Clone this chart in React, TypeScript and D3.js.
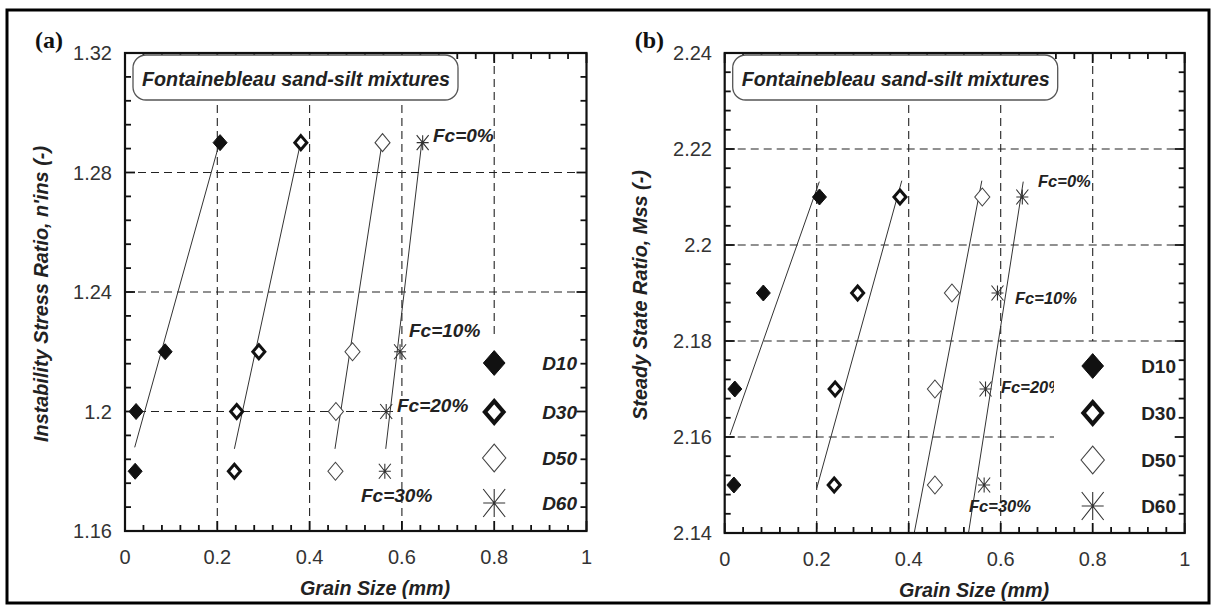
import React from "react";
import * as d3 from "d3";

// ---------- data ----------
const sizeLabels = ["D10", "D30", "D50", "D60"];
const fcLabels = ["Fc=0%", "Fc=10%", "Fc=20%", "Fc=30%"];

// panel (a): instability stress ratio for Fc = 0,10,20,30 %
const nInsValues = [1.29, 1.22, 1.2, 1.18];
const aD10 = [0.206, 0.087, 0.024, 0.022];
const aD30 = [0.381, 0.29, 0.242, 0.237];
const aD50 = [0.558, 0.493, 0.457, 0.456];
const aD60 = [0.645, 0.596, 0.566, 0.563];
// fitted lines (grain size, ratio) endpoints
const aFitD10 = [[0.021, 1.188], [0.203, 1.289]];
const aFitD30 = [[0.237, 1.1875], [0.379, 1.289]];
const aFitD50 = [[0.455, 1.1875], [0.556, 1.289]];
const aFitD60 = [[0.565, 1.1875], [0.643, 1.29]];

// panel (b): steady state ratio
const mssValues = [2.21, 2.19, 2.17, 2.15];
const bD10 = [0.206, 0.084, 0.022, 0.02];
const bD30 = [0.381, 0.289, 0.24, 0.238];
const bD50 = [0.56, 0.494, 0.457, 0.457];
const bD60 = [0.647, 0.593, 0.567, 0.564];
const bFitD10 = [[0.0115, 2.1604], [0.2057, 2.2132]];
const bFitD30 = [[0.2, 2.1493], [0.385, 2.2134]];
const bFitD50 = [[0.412, 2.14], [0.559, 2.2134]];
const bFitD60 = [[0.53, 2.14], [0.649, 2.2132]];

const xTicks = [0, 0.2, 0.4, 0.6, 0.8, 1];
const aYTicks = [1.16, 1.2, 1.24, 1.28, 1.32];
const bYTicks = [2.14, 2.16, 2.18, 2.2, 2.22, 2.24];

const SANS = "'Liberation Sans', Arial, sans-serif";
const SERIF = "'Liberation Serif', 'Times New Roman', serif";

// ---------- markers ----------
function Marker({ kind, x, y, big }: { kind: number; x: number; y: number; big?: boolean }) {
  const s = big ? 1.55 : 1;
  if (kind === 0) {
    const w = 7 * s, h = 8 * s;
    return <path d={`M${x},${y - h}L${x + w},${y}L${x},${y + h}L${x - w},${y}Z`} fill="#111" stroke="#111" strokeWidth={1} />;
  }
  if (kind === 1) {
    const w = 6 * s, h = 7 * s;
    return <path d={`M${x},${y - h}L${x + w},${y}L${x},${y + h}L${x - w},${y}Z`} fill="#fff" stroke="#111" strokeWidth={3 * (big ? 1.4 : 1)} strokeLinejoin="miter" />;
  }
  if (kind === 2) {
    const w = 7.5 * s, h = 9 * s;
    return <path d={`M${x},${y - h}L${x + w},${y}L${x},${y + h}L${x - w},${y}Z`} fill="#fff" stroke="#444" strokeWidth={1.1} />;
  }
  const r = big ? 11 : 6, ry = big ? 14 : 7.5;
  return (
    <path
      d={`M${x},${y - ry}L${x},${y + ry}M${x - r},${y}L${x + r},${y}M${x - r},${y - ry}L${x + r},${y + ry}M${x - r},${y + ry}L${x + r},${y - ry}`}
      stroke="#333" strokeWidth={1.1} fill="none"
    />
  );
}

type PanelProps = {
  label: string;
  x0: number; x1: number; y0: number; y1: number;
  yDomain: [number, number];
  yTicks: number[];
  yMinor: number;
  yValues: number[];
  series: number[][];
  fits: number[][][];
  yTitle: string;
  yTitleX: number;
  legendItalic: boolean;
  legendLabelX: number;
  legendRows: number[];
  legendRect: [number, number, number, number];
  fcPos: { x: number; y: number; size: number }[];
  fcBg?: number[];
  xTitleX: number;
  yLabelRight: number;
  yTitleLen: number;
};

function Panel(p: PanelProps) {
  const x = d3.scaleLinear().domain([0, 1]).range([p.x0, p.x1]);
  const y = d3.scaleLinear().domain(p.yDomain).range([p.y1, p.y0]);
  const line = d3.line<number[]>().x((d) => x(d[0])).y((d) => y(d[1]));
  const xMinor = d3.range(0, 1.0001, 0.04);
  const yMinorTicks = d3.range(p.yDomain[0], p.yDomain[1] + 1e-6, p.yMinor);
  const isMajorX = (v: number) => Math.abs(v * 5 - Math.round(v * 5)) < 1e-6;
  const isMajorY = (v: number) => p.yTicks.some((t) => Math.abs(t - v) < 1e-6);
  const dash = "8,5";
  const gridStroke = "#222";
  const boxX = p.x0 + 8, boxY = p.y0 + 2, boxW = 325, boxH = 45;
  const fmtY = (v: number) => String(+v.toFixed(2));
  return (
    <g>
      {/* grid */}
      {xTicks.filter((v) => v > 0 && v < 1).map((v) => (
        <line key={"gx" + v} x1={x(v)} x2={x(v)} y1={p.y0} y2={v > 0.7 ? p.legendRect[1] - 4 : p.y1}
          stroke={gridStroke} strokeWidth={1.1} strokeDasharray={dash} />
      ))}
      {p.yTicks.filter((v, i) => i > 0 && i < p.yTicks.length - 1).map((v) => (
        <line key={"gy" + v} x1={p.x0} x2={p.x1} y1={y(v)} y2={y(v)}
          stroke={gridStroke} strokeWidth={1.1} strokeDasharray={dash} />
      ))}
      {/* fit lines */}
      {p.fits.map((f, i) => (
        <path key={"fit" + i} d={line(f) || ""} stroke="#333" strokeWidth={1} fill="none" />
      ))}
      {/* markers */}
      {p.series.map((s, k) =>
        s.map((v, i) => <Marker key={`m${k}-${i}`} kind={k} x={x(v)} y={y(p.yValues[i])} />)
      )}
      {/* Fc labels */}
      {p.fcBg && <rect x={p.fcBg[0]} y={p.fcBg[1]} width={p.fcBg[2]} height={p.fcBg[3]} fill="#fff" />}
      {fcLabels.map((t, i) => (
        <text key={"fc" + i} x={p.fcPos[i].x} y={p.fcPos[i].y} fontFamily={SANS} fontWeight="bold" fontStyle="italic"
          fontSize={p.fcPos[i].size} fill="#222">{t}</text>
      ))}
      {/* legend */}
      <rect x={p.legendRect[0]} y={p.legendRect[1]} width={p.legendRect[2]} height={p.legendRect[3]} fill="#fff" />
      {sizeLabels.map((t, i) => (
        <g key={"lg" + i}>
          <Marker kind={i} x={x(0.8)} y={p.legendRows[i]} big />
          <text x={p.legendLabelX} y={p.legendRows[i]} dy="0.36em" textAnchor="end" fontFamily={SANS} fontWeight="bold"
            fontStyle={p.legendItalic ? "italic" : "normal"} fontSize={19} fill="#222">{t}</text>
        </g>
      ))}
      {/* frame */}
      <rect x={p.x0} y={p.y0} width={p.x1 - p.x0} height={p.y1 - p.y0} fill="none" stroke="#111" strokeWidth={2.2} />
      {xMinor.map((v) => {
        const len = isMajorX(v) ? 10 : 6;
        return (
          <g key={"xt" + v}>
            <line x1={x(v)} x2={x(v)} y1={p.y1} y2={p.y1 - len} stroke="#111" strokeWidth={1.8} />
            <line x1={x(v)} x2={x(v)} y1={p.y0} y2={p.y0 + len} stroke="#111" strokeWidth={1.8} />
          </g>
        );
      })}
      {yMinorTicks.map((v) => {
        const len = isMajorY(v) ? 10 : 6;
        return (
          <g key={"yt" + v}>
            <line x1={p.x0} x2={p.x0 + len} y1={y(v)} y2={y(v)} stroke="#111" strokeWidth={1.8} />
            <line x1={p.x1} x2={p.x1 - len} y1={y(v)} y2={y(v)} stroke="#111" strokeWidth={1.8} />
          </g>
        );
      })}
      {/* title box */}
      <rect x={boxX} y={boxY} width={boxW} height={boxH} rx={13} ry={13} fill="#fff" stroke="#555" strokeWidth={1.3} />
      <text x={boxX + 9} y={boxY + 31} fontFamily={SANS} fontWeight="bold" fontStyle="italic" fontSize={20.5}
        textLength={308} lengthAdjust="spacingAndGlyphs" fill="#222">Fontainebleau sand-silt mixtures</text>
      {/* tick labels */}
      {xTicks.map((v) => (
        <text key={"xl" + v} x={x(v)} y={p.y1 + 33} textAnchor="middle" fontFamily={SANS} fontSize={20} fill="#333">
          {String(v)}
        </text>
      ))}
      {p.yTicks.map((v) => (
        <text key={"yl" + v} x={p.yLabelRight} y={y(v)} dy="0.36em" textAnchor="end" fontFamily={SANS} fontSize={20} fill="#333">
          {fmtY(v)}
        </text>
      ))}
      {/* axis titles */}
      <text x={p.xTitleX} y={p.y1 + 64} textAnchor="middle" fontFamily={SANS} fontWeight="bold" fontStyle="italic"
        fontSize={20} textLength={150} lengthAdjust="spacingAndGlyphs" fill="#222">Grain Size (mm)</text>
      <text transform={`translate(${p.yTitleX},${(p.y0 + p.y1) / 2 + 2}) rotate(-90)`} dy="0.35em" textAnchor="middle"
        fontFamily={SANS} fontWeight="bold" fontStyle="italic" fontSize={20} textLength={p.yTitleLen}
        lengthAdjust="spacingAndGlyphs" fill="#222">{p.yTitle}</text>
      <text x={p.x0 - 90} y={48} fontFamily={SERIF} fontWeight="bold" fontSize={24} fill="#111">{p.label}</text>
    </g>
  );
}

export default function App() {
  return (
    <svg width={1215} height={609} style={{ position: "absolute", left: 0, top: 0, background: "#fff" }}>
      <rect x={0} y={0} width={1215} height={609} fill="#fff" />
      <rect x={7} y={10} width={1202} height={593} fill="none" stroke="#000" strokeWidth={3} />
      <Panel
        label="(a)" x0={125} x1={586.5} y0={53} y1={531}
        yDomain={[1.16, 1.32]} yTicks={aYTicks} yMinor={0.008} yValues={nInsValues}
        series={[aD10, aD30, aD50, aD60]} fits={[aFitD10, aFitD30, aFitD50, aFitD60]}
        yTitle="Instability Stress Ratio, n'ins (-)" yTitleX={41} yTitleLen={296}
        legendItalic={true} legendLabelX={577} legendRows={[363, 412, 458, 503]}
        legendRect={[472, 341, 113, 188]}
        fcPos={[{ x: 433, y: 142, size: 19 }, { x: 409, y: 337, size: 19 }, { x: 397, y: 412, size: 19 }, { x: 361, y: 502, size: 19 }]}
        fcBg={[396, 396, 76, 20]}
        xTitleX={375} yLabelRight={112}
      />
      <Panel
        label="(b)" x0={724.7} x1={1184.7} y0={53} y1={533}
        yDomain={[2.14, 2.24]} yTicks={bYTicks} yMinor={0.004} yValues={mssValues}
        series={[bD10, bD30, bD50, bD60]} fits={[bFitD10, bFitD30, bFitD50, bFitD60]}
        yTitle="Steady State Ratio, Mss (-)" yTitleX={640} yTitleLen={250}
        legendItalic={false} legendLabelX={1176} legendRows={[366, 413, 460, 506]}
        legendRect={[1054, 345, 129, 186]}
        fcPos={[{ x: 1038, y: 187, size: 16.5 }, { x: 1015, y: 304, size: 16.5 }, { x: 1001, y: 393, size: 16.5 }, { x: 969, y: 512, size: 16.5 }]}
        xTitleX={974} yLabelRight={712}
      />
    </svg>
  );
}
